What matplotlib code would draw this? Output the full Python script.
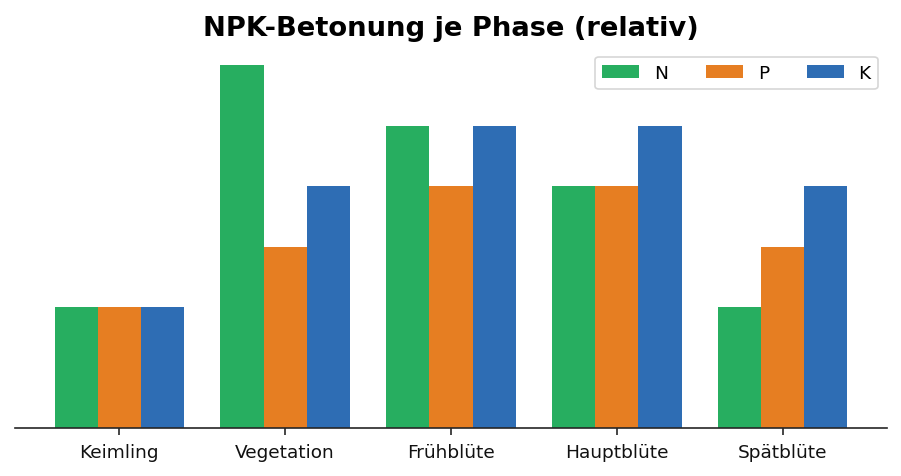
import matplotlib.pyplot as plt
import numpy as np

phases = ["Keimling", "Vegetation", "Frühblüte", "Hauptblüte", "Spätblüte"]
n_vals = [1.0, 3.0, 2.5, 2.0, 1.0]
p_vals = [1.0, 1.5, 2.0, 2.0, 1.5]
k_vals = [1.0, 2.0, 2.5, 2.5, 2.0]

colors = {"N": "#27ae60", "P": "#e67e22", "K": "#2e6db4"}
dark = "#262626"

fig = plt.figure(figsize=(9.01, 4.77), dpi=100)
ax = fig.add_axes([0.0166, 0.1006, 0.968, 0.798])

x = np.arange(len(phases))
w = 0.26
ax.bar(x - w, n_vals, w, color=colors["N"], label="N")
ax.bar(x, p_vals, w, color=colors["P"], label="P")
ax.bar(x + w, k_vals, w, color=colors["K"], label="K")

ax.set_xticks(x)
ax.set_xticklabels(phases, fontsize=13.3, color="#111111")
ax.tick_params(axis="x", length=5, width=1.2, pad=6, color=dark)
ax.set_yticks([])
ax.spines[["top", "right", "left"]].set_visible(False)
ax.spines["bottom"].set_color(dark)
ax.spines["bottom"].set_linewidth(1.2)
ax.set_title("NPK-Betonung je Phase (relativ)", fontsize=19.7, fontweight="bold",
             pad=9, color="black")
leg = ax.legend(loc="upper right", ncol=3, fontsize=13.3, frameon=True,
                handlelength=2.0, columnspacing=2.05)
leg.get_frame().set_edgecolor("#cccccc")
leg.get_frame().set_linewidth(1.2)

fig.savefig("out.png", dpi=100)
